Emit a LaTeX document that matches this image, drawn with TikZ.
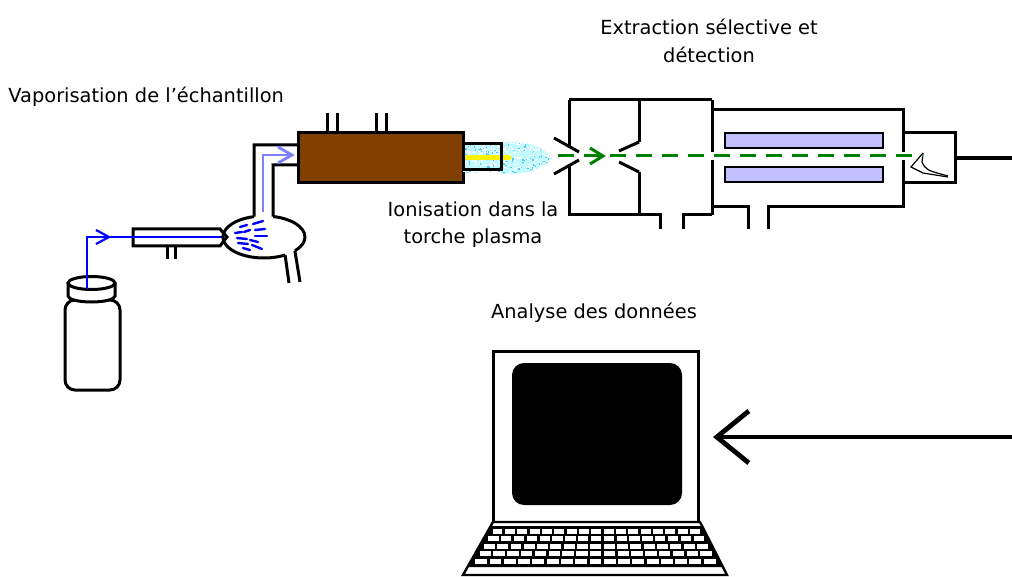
\documentclass[tikz,border=0pt]{standalone}
\usepackage{fontspec}
\setmainfont{DejaVu Sans}
\usetikzlibrary{arrows.meta}
\definecolor{torchbrown}{RGB}{128,64,0}
\definecolor{rodblue}{RGB}{192,192,255}
\definecolor{sampleblue}{RGB}{0,0,255}
\definecolor{vapourblue}{RGB}{128,128,255}
\definecolor{plasmacyan}{RGB}{190,250,255}
\definecolor{beamgreen}{RGB}{0,128,0}
\tikzset{
    wall/.style={draw, line width=1.5pt},
    thinwall/.style={draw, line width=0.6pt},
    textlabel/.style={font=\fontsize{9.7}{13.5}\selectfont, align=center, inner sep=0pt},
    sampleline/.style={sampleblue, line width=1.1pt},
    vapourline/.style={vapourblue, line width=1.4pt},
    beam/.style={beamgreen, line width=1.5pt, dash pattern=on 8pt off 5pt},
    spray/.style={sampleblue, line width=1.2pt, line cap=round},
    signal/.style={line width=2pt, -{Straight Barb[length=16pt, width=26pt, line width=2.4pt]}}
}

\begin{document}
\begin{tikzpicture}[x=0.5pt, y=-0.5pt]
    \useasboundingbox (0,0) rectangle (1012,577);

    % Labels
    \node[textlabel, anchor=west] (vaplabel) at (8,97) {Vaporisation de l’échantillon};
    \node[textlabel] (extlabel) at (709,41) {Extraction sélective et\\[0.5pt]détection};
    \node[textlabel] (ionlabel) at (473,225) {Ionisation dans la\\torche plasma};
    \node[textlabel] (datalabel) at (594,313) {Analyse des données};

    % Vial
    \draw[wall, rounded corners=5pt] (65,300) rectangle (120,390);
    \draw[wall, fill=white] (68,283) -- (68,296)
        arc[start angle=180, end angle=0, x radius=23.5, y radius=6] -- (115,283);
    \draw[wall, fill=white] (91.5,283) ellipse [x radius=23.5, y radius=6.5];

    % Nebuliser
    \draw[wall, fill=white] (133,229) -- (220,229) -- (227,237) -- (220,246) -- (133,246) -- cycle;
    \draw[wall] (167,246) -- (167,259);
    \draw[wall] (175,246) -- (175,259);

    % Sample uptake
    \coordinate (vialtop) at (87,289);
    \coordinate (nebtip) at (224,237);
    \draw[sampleline] (vialtop) -- (87,237) -- (nebtip);
    \draw[sampleline] (96,230) -- (109,237) -- (96,244);

    % Spray chamber
    \draw[wall] (273.2,216.5) arc[start angle=-77, end angle=41, x radius=41, y radius=21];
    \draw[wall] (285.1,255.0) arc[start angle=59, end angle=256, x radius=41, y radius=21];
    \draw[wall] (285.1,255.0) -- (289,283);
    \draw[wall] (294.9,250.8) -- (300,282);
    \draw[wall] (254.1,216.6) -- (254,145) -- (298,145);
    \draw[wall] (273.2,216.5) -- (273,165) -- (298,165);

    % Aerosol
    \foreach \xa/\ya/\xb/\yb in {253/224/263/221, 240/227/247/225, 255/230/265/229,
        235/233/242/232, 244/232/250/230, 255/236/267/236, 237/238/247/239,
        250/240/258/242, 238/243/248/244, 252/245/262/249, 243/248/250/250}
        \draw[spray] (\xa,\ya) -- (\xb,\yb);

    % Vapour to torch
    \draw[vapourline] (263,212) -- (263,155) -- (292,155);
    \draw[vapourline] (278,147) -- (292,155) -- (278,163);

    % Torch
    \draw[wall, fill=torchbrown] (298,133) rectangle (463,183);
    \foreach \x in {327,337,376,386}
        \draw[wall] (\x,113) -- (\x,133);

    % Plasma
    \fill[plasmacyan] (463,144) rectangle (501,170);
    \fill[plasmacyan] (501,143) .. controls (530,138) and (545,150) .. (552,158)
        .. controls (545,166) and (530,177) .. (501,173) -- cycle;
    \begin{scope}
        \clip (463,143) -- (501,143) .. controls (530,138) and (545,150) .. (552,158)
            .. controls (545,166) and (530,177) .. (501,173) -- (463,173) -- cycle;
        \pgfmathsetseed{11}
        \foreach \i in {1,...,260}{
            \pgfmathsetmacro\px{463+90*rnd}
            \pgfmathsetmacro\py{142+32*rnd}
            \fill[white] (\px,\py) rectangle ++(1.6,1.6);
        }
        \foreach \i in {1,...,120}{
            \pgfmathsetmacro\px{463+90*rnd}
            \pgfmathsetmacro\py{142+32*rnd}
            \fill[cyan!70] (\px,\py) rectangle ++(1.4,1.4);
        }
    \end{scope}
    \draw[yellow, line width=2.5pt, line cap=round] (467,158) -- (509,158);
    \draw[wall] (463,144) rectangle (501,170);

    % Interface cones
    \draw[wall] (569,100) -- (569,146);
    \draw[wall] (569,166) -- (569,215) -- (660,215) -- (660,229);
    \draw[wall] (569,100) -- (712,100);
    \draw[wall] (554,138) -- (579,152);
    \draw[wall] (554,174) -- (579,160);
    \draw[wall] (639,100) -- (639,142);
    \draw[wall] (639,172) -- (639,215);
    \draw[wall] (619,151) -- (639,142);
    \draw[wall] (619,162) -- (639,172);
    \draw[wall] (683,229) -- (683,215) -- (712,215);

    % Quadrupole chamber
    \draw[wall] (712,100) -- (712,152);
    \draw[wall] (712,160) -- (712,215);
    \draw[wall] (712,110) -- (903,110) -- (903,152);
    \draw[wall] (903,160) -- (903,207) -- (768,207) -- (768,229);
    \draw[wall] (712,207) -- (748,207) -- (748,229);
    \draw[thinwall, fill=rodblue] (725,133) rectangle (883,148);
    \draw[thinwall, fill=rodblue] (725,167) rectangle (883,182);

    % Detector
    \draw[wall] (903,133) -- (955,133) -- (955,183) -- (903,183);
    \draw[thinwall] (923,153) -- (911,167) -- (923,173) -- (948,177);
    \draw[thinwall] (923,153) -- (922,162) .. controls (926,170) .. (948,176);
    \coordinate (detout) at (955,158);
    \coordinate (cableend) at (1012,158);
    \draw[line width=2pt] (detout) -- (cableend);

    % Ion beam
    \coordinate (beamstart) at (558,156);
    \coordinate (beamend) at (923,156);
    \draw[beam] (beamstart) -- (beamend);
    \draw[beamgreen, line width=1.5pt] (590,148) -- (603,156) -- (590,164);

    % Computer
    \draw[wall, fill=white] (493,351) rectangle (698,523);
    \fill[black, rounded corners=6pt] (512,363) rectangle (682,505);
    \draw[line width=1.2pt, fill=white] (493,522) -- (700,522) -- (727,575) -- (463,575) -- cycle;
    \fill[black] (490,526) -- (702.5,526) -- (722.4,567) -- (468.1,567) -- cycle;
    \foreach \r in {0,...,4}{
        \pgfmathsetmacro\ya{528.5+7.6*\r}
        \pgfmathsetmacro\yb{\ya+5}
        \pgfmathsetmacro\xl{493-(\ya-522)*0.566+2}
        \pgfmathsetmacro\xr{700+(\ya-522)*0.51-2}
        \pgfmathsetmacro\kw{(\xr-\xl)/17}
        \foreach \k in {0,...,16}
            \fill[white] ({\xl+\k*\kw+1.2},\ya) rectangle ({\xl+(\k+1)*\kw-1.2},\yb);
    }

    % Data link
    \coordinate (linkstart) at (1012,437);
    \coordinate (linkend) at (713,437);
    \draw[signal] (linkstart) -- (linkend);
\end{tikzpicture}
\end{document}
